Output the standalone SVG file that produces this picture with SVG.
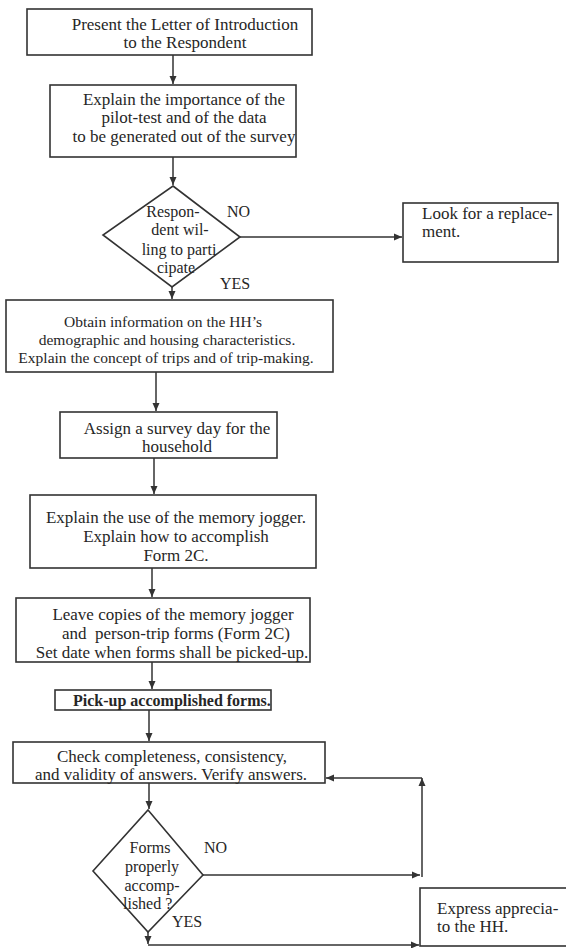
<svg xmlns="http://www.w3.org/2000/svg" width="566" height="948" viewBox="0 0 566 948">
<style>
.b{fill:#fff;stroke:#333;stroke-width:1.6}
.t{font-family:"Liberation Serif","Times New Roman",serif;font-size:17px;fill:#262626}
.c{text-anchor:middle}
.s{font-size:15.5px}
.d{font-size:16px}
.bold{font-weight:bold;font-size:16px}
.l{fill:none;stroke:#333;stroke-width:1.5}
</style>
<defs>
<marker id="ah" markerUnits="userSpaceOnUse" markerWidth="9" markerHeight="8" refX="8" refY="4" orient="auto">
<path d="M0,0.5 L8,4 L0,7.5 z" fill="#333"/>
</marker>
</defs>
<rect width="566" height="948" fill="#fff"/>
<g id="connectors">
<path class="l" d="M173,55 V84" marker-end="url(#ah)"/>
<path class="l" d="M173,157 V185" marker-end="url(#ah)"/>
<path class="l" d="M240,237 H402" marker-end="url(#ah)"/>
<path class="l" d="M172,287 V299" marker-end="url(#ah)"/>
<path class="l" d="M156,372 V411" marker-end="url(#ah)"/>
<path class="l" d="M154,458 V494" marker-end="url(#ah)"/>
<path class="l" d="M152,568 V597" marker-end="url(#ah)"/>
<path class="l" d="M152,662 V689" marker-end="url(#ah)"/>
<path class="l" d="M149,710 V741" marker-end="url(#ah)"/>
<path class="l" d="M149,783 V809" marker-end="url(#ah)"/>
<path class="l" d="M203,875 H420" marker-end="url(#ah)"/>
<path class="l" d="M422,877 V778" marker-end="url(#ah)"/>
<path class="l" d="M422,778 H326" marker-end="url(#ah)"/>
<path class="l" d="M148,932 V944" marker-end="url(#ah)"/>
<path class="l" d="M148,945 H419" marker-end="url(#ah)"/>
<text class="t d" x="227" y="217">NO</text>
<text class="t d" x="220" y="289">YES</text>
<text class="t d" x="204" y="853">NO</text>
<text class="t d" x="172" y="927">YES</text>
</g>
<g id="n1">
<rect class="b" x="27" y="9" width="285" height="46"/>
<text class="t c" x="185" y="30">Present the Letter of Introduction</text>
<text class="t c" x="185" y="48">to the Respondent</text>
</g>
<g id="n2">
<rect class="b" x="50" y="85" width="246" height="72"/>
<text class="t c" x="184" y="105">Explain the importance of the</text>
<text class="t c" x="184" y="123">pilot-test and of the data</text>
<text class="t c" x="184" y="142">to be generated out of the survey</text>
</g>
<g id="n3">
<path class="b" d="M173,186 L240,237 L172,287 L103,235 Z"/>
<text class="t d c" x="173" y="217">Respon-</text>
<text class="t d c" x="180" y="235">dent wil-</text>
<text class="t d c" x="179" y="255">ling to parti</text>
<text class="t d c" x="176" y="273">cipate</text>
</g>
<g id="n4">
<rect class="b" x="403" y="203" width="155" height="59"/>
<text class="t" x="422" y="219">Look for a replace-</text>
<text class="t" x="422" y="237">ment.</text>
</g>
<g id="n5">
<rect class="b" x="6" y="300" width="327" height="72"/>
<text class="t s c" x="163" y="327">Obtain information on the HH’s</text>
<text class="t s c" x="167" y="345">demographic and housing characteristics.</text>
<text class="t s c" x="166" y="363">Explain the concept of trips and of trip-making.</text>
</g>
<g id="n6">
<rect class="b" x="60" y="412" width="217" height="46"/>
<text class="t c" x="177" y="434">Assign a survey day for the</text>
<text class="t c" x="177" y="452">household</text>
</g>
<g id="n7">
<rect class="b" x="30" y="495" width="286" height="73"/>
<text class="t c" x="176" y="523">Explain the use of the memory jogger.</text>
<text class="t c" x="176" y="542">Explain how to accomplish</text>
<text class="t c" x="176" y="561">Form 2C.</text>
</g>
<g id="n8">
<rect class="b" x="16" y="598" width="294" height="64"/>
<text class="t c" x="173" y="620">Leave copies of the memory jogger</text>
<text class="t c" x="176" y="639" xml:space="preserve">and  person-trip forms (Form 2C)</text>
<text class="t c" x="172" y="658">Set date when forms shall be picked-up.</text>
</g>
<g id="n9">
<rect class="b" x="55" y="690" width="216" height="20"/>
<text class="t bold" x="73" y="706">Pick-up accomplished forms.</text>
</g>
<g id="n10">
<rect class="b" x="13" y="742" width="312" height="41"/>
<text class="t c" x="172" y="762">Check completeness, consistency,</text>
<text class="t c" x="171" y="780">and validity of answers. Verify answers.</text>
</g>
<g id="n11">
<path class="b" d="M148,810 L203,875 L148,932 L93,871 Z"/>
<text class="t d c" x="150" y="853">Forms</text>
<text class="t d c" x="152" y="872">properly</text>
<text class="t d c" x="152" y="891">accomp-</text>
<text class="t d" x="123" y="909">lished ?</text>
</g>
<g id="n12">
<rect class="b" x="420" y="888" width="150" height="58"/>
<text class="t" x="437" y="914">Express apprecia-</text>
<text class="t" x="437" y="932">to the HH.</text>
</g>
</svg>
